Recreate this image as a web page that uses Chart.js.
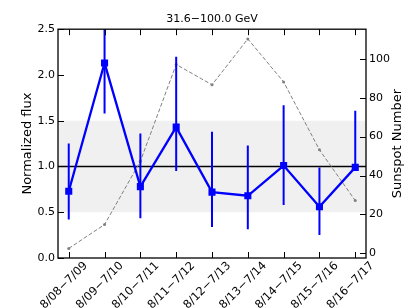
<!DOCTYPE html>
<html>
<head>
<meta charset="utf-8">
<script src="https://cdn.jsdelivr.net/npm/chart.js@4.4.1/dist/chart.umd.min.js"></script>
<style>
    html, body { margin: 0; padding: 0; background: #fff; }
</style>
</head>
<body>
<canvas id="fluxChart" width="411" height="308"></canvas>
<script>
// data
const periods = ["8/08\u22127/09", "8/09\u22127/10", "8/10\u22127/11", "8/11\u22127/12", "8/12\u22127/13",
                 "8/13\u22127/14", "8/14\u22127/15", "8/15\u22127/16", "8/16\u22127/17"];
const flux     = [0.73, 2.13, 0.78, 1.43, 0.72, 0.68, 1.01, 0.56, 0.99];
const fluxLow  = [0.42, 1.58, 0.435, 0.95, 0.34, 0.315, 0.58, 0.25, 0.99];
const fluxHigh = [1.25, 2.68, 1.36, 2.20, 1.38, 1.23, 1.67, 0.99, 1.61];
const sunspots = [2.5, 14.8, 47.3, 97.1, 86.6, 110.2, 88.1, 53.2, 27.1];
const fluxTicks = [0, 0.5, 1.0, 1.5, 2.0, 2.5];
const sunspotTicks = [0, 20, 40, 60, 80, 100];

Chart.defaults.font.family = "'DejaVu Sans', sans-serif";
Chart.defaults.color = "#000";

const BLUE = "#0000ff";

// band, reference line, error bars, inward ticks, frame and right title
const extras = {
    id: "extras",
    beforeDatasetsDraw(chart) {
        const { ctx, chartArea: a, scales } = chart;
        const y = scales.y;
        ctx.save();
        ctx.fillStyle = "#f0f0f0";
        ctx.fillRect(a.left, y.getPixelForValue(1.5), a.right - a.left, y.getPixelForValue(0.5) - y.getPixelForValue(1.5));
        ctx.strokeStyle = "#000";
        ctx.lineWidth = 1.3;
        ctx.beginPath();
        ctx.moveTo(a.left, y.getPixelForValue(1));
        ctx.lineTo(a.right, y.getPixelForValue(1));
        ctx.stroke();
        ctx.restore();
    },
    afterDatasetsDraw(chart) {
        const { ctx, chartArea: a, scales } = chart;
        ctx.save();
        ctx.beginPath();
        ctx.rect(a.left, a.top, a.right - a.left, a.bottom - a.top);
        ctx.clip();
        ctx.strokeStyle = BLUE;
        ctx.lineWidth = 2;
        flux.forEach((v, i) => {
            const px = scales.x.getPixelForValue(i);
            ctx.beginPath();
            ctx.moveTo(px, scales.y.getPixelForValue(fluxLow[i]));
            ctx.lineTo(px, scales.y.getPixelForValue(fluxHigh[i]));
            ctx.stroke();
        });
        ctx.restore();
    },
    afterDraw(chart) {
        const { ctx, chartArea: a, scales } = chart;
        const len = 6;
        ctx.save();
        ctx.strokeStyle = "#000";
        ctx.lineWidth = 1;
        ctx.beginPath();
        periods.forEach((p, i) => {
            const px = Math.round(scales.x.getPixelForValue(i)) + 0.5;
            ctx.moveTo(px, a.bottom); ctx.lineTo(px, a.bottom - len);
            ctx.moveTo(px, a.top); ctx.lineTo(px, a.top + len);
        });
        fluxTicks.forEach(t => {
            const py = Math.round(scales.y.getPixelForValue(t)) + 0.5;
            ctx.moveTo(a.left, py); ctx.lineTo(a.left + len, py);
        });
        sunspotTicks.forEach(t => {
            const py = Math.round(scales.y1.getPixelForValue(t)) + 0.5;
            ctx.moveTo(a.right, py); ctx.lineTo(a.right - len, py);
        });
        ctx.stroke();

        ctx.lineWidth = 1.3;
        ctx.strokeRect(a.left, a.top, a.right - a.left, a.bottom - a.top);

        // right axis title reads bottom to top, like the left one
        ctx.translate(398, (a.top + a.bottom) / 2);
        ctx.rotate(-Math.PI / 2);
        ctx.font = "13px 'DejaVu Sans'";
        ctx.fillStyle = "#000";
        ctx.textAlign = "center";
        ctx.textBaseline = "middle";
        ctx.fillText("Sunspot Number", 0, 0);
        ctx.restore();
    }
};

new Chart(document.getElementById("fluxChart"), {
    type: "line",
    data: {
        datasets: [
            {
                label: "Normalized flux",
                data: flux.map((v, i) => ({ x: i, y: v })),
                yAxisID: "y",
                borderColor: BLUE,
                backgroundColor: BLUE,
                borderWidth: 2.3,
                pointStyle: "rect",
                pointRadius: 5,
                pointBorderWidth: 0,
                tension: 0,
                order: 1
            },
            {
                label: "Sunspot Number",
                data: sunspots.map((v, i) => ({ x: i, y: v })),
                yAxisID: "y1",
                borderColor: "#808080",
                backgroundColor: "#808080",
                borderWidth: 1,
                borderDash: [4, 2],
                pointRadius: 1.5,
                pointBorderWidth: 0,
                tension: 0,
                order: 2
            }
        ]
    },
    options: {
        responsive: false,
        animation: false,
        devicePixelRatio: 1,
        layout: { padding: 0 },
        plugins: {
            legend: { display: false },
            tooltip: { enabled: false },
            title: {
                display: true,
                text: "31.6\u2212100.0 GeV",
                fullSize: false,
                font: { size: 11, weight: "normal" },
                padding: { top: 13, bottom: 3 }
            }
        },
        scales: {
            x: {
                type: "linear",
                position: "bottom",
                min: -0.3,
                max: 8.3,
                grid: { display: false, drawTicks: false },
                border: { display: false },
                afterBuildTicks: s => { s.ticks = periods.map((p, i) => ({ value: i })); },
                afterFit: s => { s.height = 50; },
                ticks: {
                    autoSkip: false,
                    minRotation: 45,
                    maxRotation: 45,
                    labelOffset: 17,
                    padding: 1,
                    font: { size: 11.5 },
                    callback: v => periods[v]
                }
            },
            y: {
                position: "left",
                min: 0,
                max: 2.5,
                grid: { display: false, drawTicks: false },
                border: { display: false },
                afterBuildTicks: s => { s.ticks = fluxTicks.map(v => ({ value: v })); },
                afterFit: s => { s.width = 58; },
                ticks: {
                    padding: 3,
                    font: { size: 11 },
                    callback: v => v.toFixed(1)
                },
                title: {
                    display: true,
                    text: "Normalized flux",
                    font: { size: 13 },
                    padding: { top: 20, bottom: 0 }
                }
            },
            y1: {
                position: "right",
                min: -2.4,
                max: 115.2,
                grid: { display: false, drawTicks: false },
                border: { display: false },
                afterBuildTicks: s => { s.ticks = sunspotTicks.map(v => ({ value: v })); },
                afterFit: s => { s.width = 45; },
                ticks: {
                    padding: 3,
                    font: { size: 11 },
                    callback: v => v
                }
            }
        }
    },
    plugins: [extras]
});
</script>
</body>
</html>
